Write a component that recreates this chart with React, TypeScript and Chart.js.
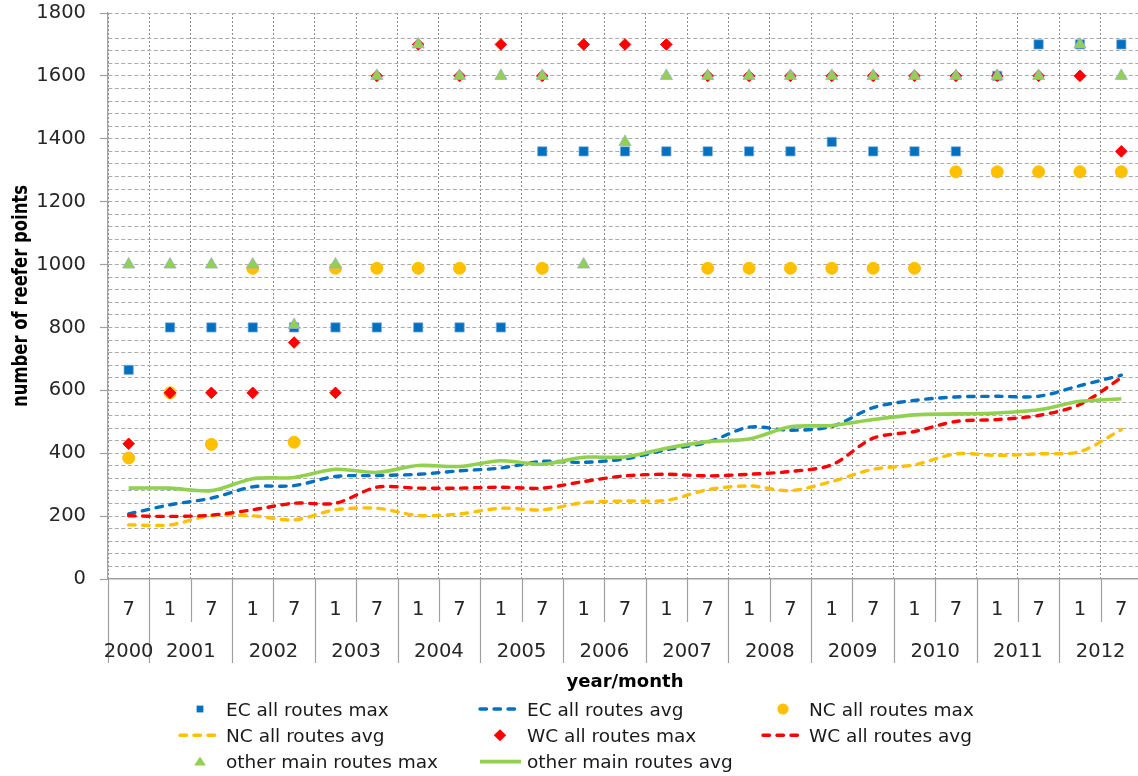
import { useEffect, useRef } from 'react';
import { Chart, registerables } from 'chart.js';

Chart.register(...registerables);

// Half-year periods: year and month of each sample
const years = [2000, 2001, 2001, 2002, 2002, 2003, 2003, 2004, 2004, 2005, 2005, 2006, 2006,
  2007, 2007, 2008, 2008, 2009, 2009, 2010, 2010, 2011, 2011, 2012, 2012];
const months = [7, 1, 7, 1, 7, 1, 7, 1, 7, 1, 7, 1, 7, 1, 7, 1, 7, 1, 7, 1, 7, 1, 7, 1, 7];

const yTickLabels = [0, 200, 400, 600, 800, 1000, 1200, 1400, 1600, 1800];

// Maximum number of reefer points per route group
const ecMax = [665, 800, 800, 800, 800, 800, 800, 800, 800, 800, 1360, 1360, 1360, 1360, 1360,
  1360, 1360, 1390, 1360, 1360, 1360, 1600, 1700, 1700, 1700];
const ncMax = [385, 592, 428, 988, 435, 988, 988, 988, 988, null, 988, null, null, null, 988,
  988, 988, 988, 988, 988, 1295, 1295, 1295, 1295, 1295];
const wcMax = [430, 592, 592, 592, 752, 592, 1600, 1700, 1600, 1700, 1600, 1700, 1700, 1700, 1600,
  1600, 1600, 1600, 1600, 1600, 1600, 1600, 1600, 1600, 1360];
const otherMax = [1000, 1000, 1000, 1000, 808, 1000, 1600, 1700, 1600, 1600, 1600, 1000, 1390, 1600, 1600,
  1600, 1600, 1600, 1600, 1600, 1600, 1600, 1600, 1700, 1600];

// Average number of reefer points per route group
const ecAvg = [207, 236, 257, 293, 297, 326, 329, 333, 344, 353, 374, 371, 382, 411, 435,
  483, 473, 485, 545, 568, 579, 581, 581, 615, 648];
const ncAvg = [172, 172, 202, 201, 188, 220, 225, 202, 207, 225, 220, 243, 248, 250, 284,
  296, 281, 310, 349, 363, 398, 393, 398, 405, 475];
const wcAvg = [201, 199, 203, 220, 241, 241, 292, 289, 289, 292, 289, 310, 328, 333, 328,
  333, 342, 363, 448, 469, 501, 507, 520, 555, 640];
const otherAvg = [289, 289, 281, 319, 323, 349, 339, 361, 358, 376, 365, 387, 388, 416, 437,
  445, 484, 488, 507, 522, 525, 528, 538, 565, 573];

const BLUE = '#0070C0';
const YELLOW = '#FFC000';
const RED = '#FF0000';
const GREEN = '#92D050';

const FONT = '"DejaVu Sans", sans-serif';
const AXIS_GRAY = '#a0a0a0';
const DASH = [6.5, 7.5];

const labels = months.map((m, i) => `${years[i]}/${m}`);

function markerSeries(label: string, data: (number | null)[], color: string, style: string,
  radius: number, border: string) {
  return {
    type: 'line' as const,
    label,
    data,
    showLine: false,
    pointStyle: style,
    pointRadius: radius,
    pointHoverRadius: radius,
    pointBackgroundColor: color,
    pointBorderColor: border,
    pointBorderWidth: 1,
    borderColor: color,
    backgroundColor: color,
  };
}

function avgSeries(label: string, data: number[], color: string, dashed: boolean) {
  return {
    type: 'line' as const,
    label,
    data,
    borderColor: color,
    backgroundColor: color,
    borderWidth: dashed ? 3.4 : 3.6,
    borderDash: dashed ? DASH : [],
    borderCapStyle: dashed ? ('round' as const) : ('butt' as const),
    pointRadius: 0,
    pointHoverRadius: 0,
    tension: 0.3,
    fill: false,
  };
}

const datasets: any[] = [
  markerSeries('EC all routes max', ecMax, BLUE, 'rect', 6.6, 'rgba(140,175,220,0.7)'),
  avgSeries('EC all routes avg', ecAvg, BLUE, true),
  markerSeries('NC all routes max', ncMax, YELLOW, 'circle', 6, YELLOW),
  avgSeries('NC all routes avg', ncAvg, YELLOW, true),
  markerSeries('WC all routes max', wcMax, RED, 'rectRot', 5.8, RED),
  avgSeries('WC all routes avg', wcAvg, RED, true),
  markerSeries('other main routes max', otherMax, GREEN, 'triangle', 7, 'rgba(150,175,210,0.8)'),
  avgSeries('other main routes avg', otherAvg, GREEN, false),
];
// later series are painted over earlier ones
datasets.forEach((d, i) => { d.order = datasets.length - i; });

function drawSymbol(ctx: CanvasRenderingContext2D, ds: any, cx: number, cy: number) {
  ctx.save();
  if (ds.showLine === false) {
    ctx.fillStyle = ds.pointBackgroundColor;
    ctx.beginPath();
    if (ds.pointStyle === 'rect') {
      ctx.rect(cx - 3.4, cy - 3.4, 6.8, 6.8);
    } else if (ds.pointStyle === 'circle') {
      ctx.arc(cx, cy, 5.6, 0, Math.PI * 2);
    } else if (ds.pointStyle === 'rectRot') {
      ctx.moveTo(cx - 6.2, cy); ctx.lineTo(cx, cy - 6); ctx.lineTo(cx + 6.2, cy); ctx.lineTo(cx, cy + 6);
      ctx.closePath();
    } else {
      ctx.moveTo(cx, cy - 5); ctx.lineTo(cx + 5.8, cy + 4); ctx.lineTo(cx - 5.8, cy + 4);
      ctx.closePath();
    }
    ctx.fill();
  } else {
    ctx.strokeStyle = ds.borderColor;
    ctx.lineWidth = ds.borderWidth;
    ctx.lineCap = ds.borderCapStyle;
    ctx.setLineDash(ds.borderDash);
    ctx.beginPath();
    ctx.moveTo(cx - 20, cy);
    ctx.lineTo(cx + 21, cy);
    ctx.stroke();
  }
  ctx.restore();
}

const decorPlugin = {
  id: 'decor',
  afterDraw(chart: any) {
    const { ctx, chartArea, scales } = chart;
    const xs = scales.x;
    const bottom = chartArea.bottom;
    const step = xs.getPixelForValue(1) - xs.getPixelForValue(0);
    ctx.save();

    // category separators below the axis
    ctx.strokeStyle = AXIS_GRAY;
    ctx.lineWidth = 1.2;
    for (let i = 0; i <= months.length; i++) {
      const bx = Math.round(xs.getPixelForValue(i) - step / 2) + 0.5;
      const yearEdge = i === 0 || i === months.length || years[i] !== years[i - 1];
      ctx.beginPath();
      ctx.moveTo(bx, bottom);
      ctx.lineTo(bx, yearEdge ? 663 : 622);
      ctx.stroke();
    }

    // month labels
    ctx.fillStyle = '#262626';
    ctx.font = `19.5px ${FONT}`;
    ctx.textAlign = 'center';
    ctx.textBaseline = 'alphabetic';
    months.forEach((m, i) => {
      ctx.fillText(String(m), xs.getPixelForValue(i), 615);
    });

    // year labels centred under their months
    const groups: { year: number; idx: number[] }[] = [];
    years.forEach((y, i) => {
      const g = groups[groups.length - 1];
      if (g && g.year === y) g.idx.push(i);
      else groups.push({ year: y, idx: [i] });
    });
    groups.forEach((g) => {
      const cx = g.idx.reduce((s, i) => s + xs.getPixelForValue(i), 0) / g.idx.length;
      ctx.fillText(String(g.year), cx, 657);
    });

    // x-axis title
    ctx.fillStyle = '#000';
    ctx.font = `bold 18px ${FONT}`;
    ctx.fillText('year/month', (chartArea.left + 1138) / 2 + 2, 687);

    // y-axis title
    const yTitle = 'number of reefer points';
    ctx.font = `bold 16.4px ${FONT}`;
    const w = ctx.measureText(yTitle).width;
    ctx.save();
    ctx.translate(21, (chartArea.top + chartArea.bottom) / 2);
    ctx.rotate(-Math.PI / 2);
    ctx.scale(222 / w, 1.3);
    ctx.textBaseline = 'middle';
    ctx.fillText(yTitle, 0, 0);
    ctx.restore();

    // legend: three columns, three rows
    const colSym = [200, 500, 783];
    const colText = [226, 527, 809];
    const rowBase = [715.7, 742, 768.3];
    ctx.font = `18.5px ${FONT}`;
    ctx.textAlign = 'left';
    ctx.textBaseline = 'alphabetic';
    chart.data.datasets.forEach((ds: any, k: number) => {
      const r = Math.floor(k / 3);
      const c = k % 3;
      drawSymbol(ctx, ds, colSym[c], rowBase[r] - 6.7);
      ctx.fillStyle = '#1a1a1a';
      ctx.fillText(ds.label, colText[c], rowBase[r]);
    });

    ctx.restore();
  },
};

export default function App() {
  const ref = useRef<HTMLCanvasElement>(null);

  useEffect(() => {
    const chart = new Chart(ref.current as HTMLCanvasElement, {
      type: 'line',
      data: { labels, datasets },
      options: {
        animation: false,
        responsive: false,
        events: [],
        layout: { autoPadding: false, padding: { top: 13, right: 0, bottom: 0, left: 0 } },
        plugins: {
          legend: { display: false },
          tooltip: { enabled: false },
        },
        scales: {
          x: {
            type: 'category',
            offset: true,
            ticks: { display: false },
            grid: {
              offset: true,
              drawTicks: false,
              color: '#8c8c8c',
              lineWidth: 1,
            },
            border: { display: true, color: AXIS_GRAY, width: 1.6, dash: [2, 2] },
            afterFit: (scale: any) => { scale.height = 197; },
          },
          y: {
            min: 0,
            max: 1800,
            ticks: {
              stepSize: 40,
              autoSkip: false,
              maxTicksLimit: 100,
              padding: 14,
              color: '#262626',
              font: { family: FONT, size: 19.5 },
              callback: (v: any) => (yTickLabels.includes(Number(v)) ? String(v) : ''),
            },
            grid: {
              color: (c: any) => {
                const v = c.tick ? c.tick.value : -1;
                return v === 0 || v === 1760 ? 'rgba(0,0,0,0)' : '#ababab';
              },
              lineWidth: 1,
              tickLength: 8,
              tickWidth: 1.2,
              tickColor: (c: any) => {
                const v = c.tick ? c.tick.value : -1;
                return yTickLabels.includes(v) ? AXIS_GRAY : 'rgba(0,0,0,0)';
              },
              tickBorderDash: [],
            },
            border: { display: true, color: AXIS_GRAY, width: 1.3, dash: [4, 2.5] },
            afterFit: (scale: any) => {
              scale.width = 108;
              scale.paddingTop = 0;
              scale.paddingBottom = 0;
            },
          },
        },
      },
      plugins: [decorPlugin],
    } as any);
    return () => chart.destroy();
  }, []);

  return (
    <div style={{ position: 'fixed', left: 0, top: 0, width: 1138, height: 776, overflow: 'hidden', background: '#fff' }}>
      <canvas ref={ref} width={1142} height={776} style={{ display: 'block' }} />
    </div>
  );
}
